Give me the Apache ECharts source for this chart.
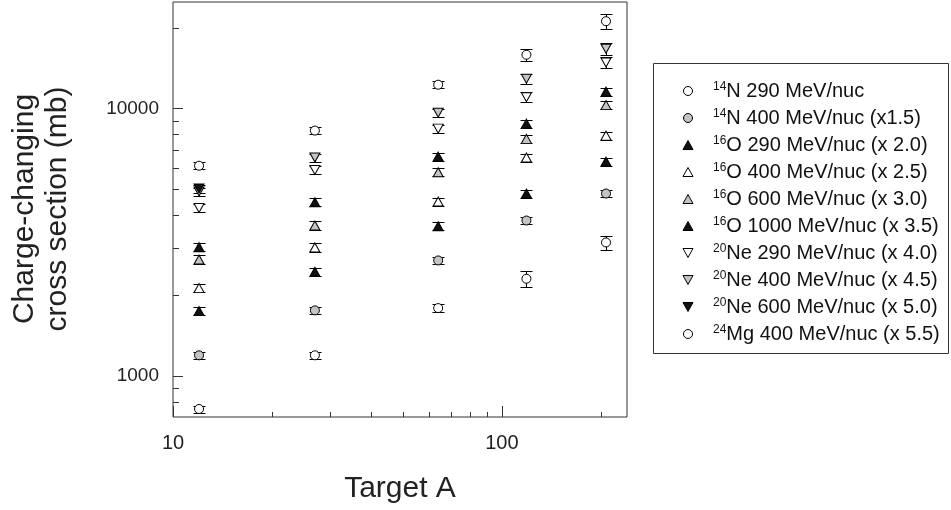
<!DOCTYPE html>
<html><head><meta charset="utf-8">
<script src="https://cdn.jsdelivr.net/npm/echarts@6/dist/echarts.min.js"></script>
<style>html,body{margin:0;padding:0;background:#fff}#c{width:951px;height:510px}</style>
</head><body><div id="c"></div>
<script>
// ---- data ----
const targetA = [12, 27, 64, 118.7, 207.2];
const n14_290 = [750, 1191, 1789, 2304, 3149];
const n14_400 = [1191, 1754, 2697, 3805, 4800];
const o16_290 = [1743, 2446, 3622, 4800, 6321];
const o16_400 = [2125, 3017, 4481, 6543, 7907];
const o16_600 = [2720, 3645, 5766, 7686, 10280];
const o16_1000 = [3024, 4455, 6599, 8766, 11545];
const ne20_290 = [4236, 5877, 8397, 11013, 14856];
const ne20_400 = [4883, 6543, 9636, 12912, 16710];
const ne20_600 = [5012];
const mg24_400 = [6099, 8256, 12260, 15870, 21180];
// relative errors
const err_n14_290 = [0.03, 0.03, 0.035, 0.065, 0.06];
const err_n14_400 = [0.03, 0.03, 0.03, 0.03, 0.03];
const err_o16 = [0.035, 0.035, 0.035, 0.035, 0.035];
const err_ne20 = [0.035, 0.035, 0.035, 0.045, 0.05];
const err_ne20_600 = [0.035];
const err_mg24 = [0.03, 0.03, 0.03, 0.05, 0.065];
const seriesNames = [
  '14N 290 MeV/nuc', '14N 400 MeV/nuc (x1.5)', '16O 290 MeV/nuc (x 2.0)', '16O 400 MeV/nuc (x 2.5)',
  '16O 600 MeV/nuc (x 3.0)', '16O 1000 MeV/nuc (x 3.5)', '20Ne 290 MeV/nuc (x 4.0)',
  '20Ne 400 MeV/nuc (x 4.5)', '20Ne 600 MeV/nuc (x 5.0)', '24Mg 400 MeV/nuc (x 5.5)'
];
const xTickLabels = [10, 100];
const yTickLabels = [1000, 10000];
const xMinorTicks = [20, 30, 40, 50, 60, 70, 80, 90, 200];
const yMinorTicks = [800, 900, 2000, 3000, 4000, 5000, 6000, 7000, 8000, 9000, 20000];
const xMin = 10, xMax = 240, yMin = 700, yMax = 25000;

// ---- styles ----
const UP = 'path://M5,0L10,9L0,9Z';
const DOWN = 'path://M0,0L10,0L5,9Z';
const WHITE = '#ffffff', GRAY = '#c4c4c4', BLACK = '#111111';
const styles = [
  ['circle', WHITE], ['circle', GRAY], [UP, BLACK], [UP, WHITE],
  [UP, GRAY], [UP, BLACK], [DOWN, WHITE], [DOWN, GRAY], [DOWN, BLACK], ['circle', WHITE]
];
const values = [n14_290, n14_400, o16_290, o16_400, o16_600, o16_1000, ne20_290, ne20_400, ne20_600, mg24_400];
const errors = [err_n14_290, err_n14_400, err_o16, err_o16, err_o16, err_o16, err_ne20, err_ne20, err_ne20_600, err_mg24];

const FONT = 'Liberation Sans';
const series = [];
const errData = [];
values.forEach((vals, s) => {
  const [sym, fill] = styles[s];
  series.push({
    type: 'scatter', name: seriesNames[s], z: 5,
    symbol: sym, symbolSize: sym === 'circle' ? 9 : [10, 9],
    itemStyle: { color: fill, borderColor: '#000', borderWidth: 1, opacity: 1 },
    emphasis: { disabled: true },
    data: vals.map((v, i) => [targetA[i], v])
  });
  vals.forEach((v, i) => errData.push([targetA[i], v * (1 - errors[s][i]), v * (1 + errors[s][i])]));
});

series.push({
  type: 'custom', coordinateSystem: 'cartesian2d', z: 3, silent: true,
  encode: { x: 0, y: [1, 2] },
  data: errData,
  renderItem(params, api) {
    const pl = api.coord([api.value(0), api.value(1)]);
    const ph = api.coord([api.value(0), api.value(2)]);
    const cx = Math.round(pl[0]) + 0.5;
    const yl = Math.round(pl[1]) + 0.5, yh = Math.round(ph[1]) + 0.5;
    const st = { stroke: '#000', lineWidth: 1 };
    return { type: 'group', children: [
      { type: 'line', shape: { x1: cx, y1: yl, x2: cx, y2: yh }, style: st },
      { type: 'line', shape: { x1: cx - 6, y1: yl, x2: cx + 6, y2: yl }, style: st },
      { type: 'line', shape: { x1: cx - 6, y1: yh, x2: cx + 6, y2: yh }, style: st }
    ]};
  }
});

// ticks (inside)
const xTickData = xTickLabels.map(v => [v, yMin, 11]).concat(xMinorTicks.map(v => [v, yMin, 5]));
const yTickData = yTickLabels.map(v => [xMin, v, 10]).concat(yMinorTicks.map(v => [xMin, v, 6]));
series.push({
  type: 'custom', coordinateSystem: 'cartesian2d', z: 2, silent: true, clip: false,
  data: xTickData,
  renderItem(params, api) {
    const p = api.coord([api.value(0), api.value(1)]);
    const x = Math.round(p[0]) + 0.5;
    return { type: 'line', shape: { x1: x, y1: p[1], x2: x, y2: p[1] - api.value(2) }, style: { stroke: '#333', lineWidth: 1 } };
  }
});
series.push({
  type: 'custom', coordinateSystem: 'cartesian2d', z: 2, silent: true, clip: false,
  data: yTickData,
  renderItem(params, api) {
    const p = api.coord([api.value(0), api.value(1)]);
    const y = Math.round(p[1]) + 0.5;
    return { type: 'line', shape: { x1: p[0], y1: y, x2: p[0] + api.value(2), y2: y }, style: { stroke: '#333', lineWidth: 1 } };
  }
});

function isPow10(v) { const l = Math.log10(v); return Math.abs(l - Math.round(l)) < 1e-6; }

const chart = echarts.init(document.getElementById('c'), null, { renderer: 'canvas' });
chart.setOption({
  animation: false,
  backgroundColor: '#fff',
  textStyle: { fontFamily: FONT },
  grid: { left: 173, top: 2, width: 454, height: 415, show: true, borderColor: '#333', borderWidth: 1, backgroundColor: 'transparent' },
  xAxis: {
    type: 'log', logBase: 10, min: xMin, max: xMax,
    axisLine: { show: false }, axisTick: { show: false }, splitLine: { show: false }, minorTick: { show: false },
    axisLabel: { fontSize: 20, color: '#222', fontFamily: FONT, margin: 16,
      formatter: v => isPow10(v) ? String(Math.round(v)) : '', showMinLabel: true, showMaxLabel: true }
  },
  yAxis: {
    type: 'log', logBase: 10, min: yMin, max: yMax,
    axisLine: { show: false }, axisTick: { show: false }, splitLine: { show: false }, minorTick: { show: false },
    axisLabel: { fontSize: 19, color: '#222', fontFamily: FONT, margin: 14,
      formatter: v => isPow10(v) ? String(Math.round(v)) : '' }
  },
  legend: {
    data: seriesNames, orient: 'vertical', left: 682.5, top: 81, itemGap: 7, padding: 0,
    itemWidth: 40, itemHeight: 9, selectedMode: false,
    itemStyle: { borderWidth: 1, borderColor: '#000' },
    formatter: name => { const m = name.match(/^(\d+)(.*)$/); return '{s|' + m[1] + '}{m|' + m[2] + '}'; },
    textStyle: { color: '#111', fontFamily: FONT, fontSize: 20,
      rich: {
        s: { fontSize: 12, lineHeight: 9, verticalAlign: 'top', fontFamily: FONT, color: '#111' },
        m: { fontSize: 20, lineHeight: 20, verticalAlign: 'middle', fontFamily: FONT, color: '#111' }
      } }
  },
  graphic: [
    { type: 'rect', shape: { x: 653.5, y: 63.5, width: 295, height: 290 }, style: { fill: 'none', stroke: '#333', lineWidth: 1 }, silent: true },
    { type: 'text', x: 400, y: 489, silent: true,
      style: { text: 'Target A', font: '30px "Liberation Sans"', fill: '#222', textAlign: 'center', textVerticalAlign: 'middle', align: 'center', verticalAlign: 'middle' } },
    { type: 'text', x: 41, y: 209, rotation: Math.PI / 2, silent: true,
      style: { text: 'Charge-changing\ncross section (mb)', font: '30px "Liberation Sans"', fill: '#222', lineHeight: 33, textAlign: 'center', textVerticalAlign: 'middle', align: 'center', verticalAlign: 'middle' } }
  ],
  series: series
});
</script>
</body></html>
